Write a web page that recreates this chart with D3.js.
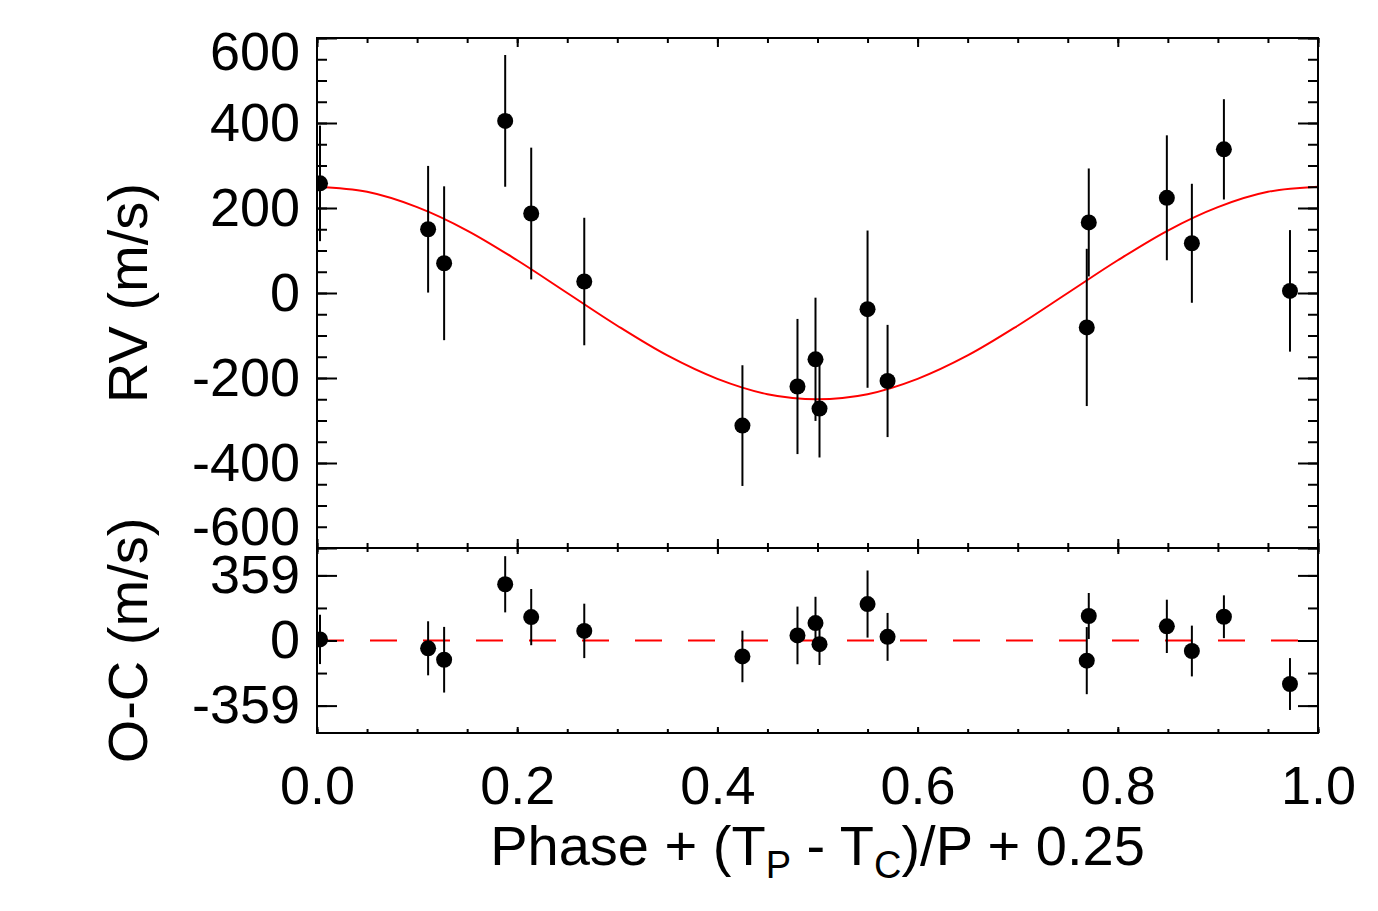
<!DOCTYPE html>
<html>
<head>
<meta charset="utf-8">
<script src="https://cdn.jsdelivr.net/npm/d3@7"></script>
<style>
  body { margin: 0; background: #fff; }
  text { font-family: "Liberation Sans", Arial, Helvetica, sans-serif; }
</style>
</head>
<body>
<svg id="chart" width="1378" height="911"></svg>
<script>
const phase = [0.003, 0.111, 0.127, 0.188, 0.214, 0.267, 0.425, 0.480, 0.498,
               0.502, 0.550, 0.570, 0.771, 0.769, 0.849, 0.874, 0.906, 0.972];
const rv    = [258, 150, 70, 405, 187, 27, -312, -220, -156,
               -272, -38, -207, 166, -81, 224, 117, 338, 5];
const rvErr = [136, 149, 181, 155, 155, 150, 142, 159, 145,
               115, 185, 132, 127, 185, 147, 140, 118, 143];
const oc    = [6, -43, -106, 310, 129, 53, -88, 28, 96,
               -20, 201, 20, 135, -111, 78, -58, 131, -240];

// fitted orbit, sampled from the red curve
const modelPhase = [0, 0.05, 0.1, 0.15, 0.2, 0.25, 0.3, 0.35, 0.4, 0.45, 0.5,
                    0.55, 0.6, 0.65, 0.7, 0.75, 0.8, 0.85, 0.9, 0.95, 1];
const modelRv    = [250, 238, 202, 147, 77, 0, -77, -147, -202, -238, -250,
                    -238, -202, -147, -77, 0, 77, 147, 202, 238, 250];

const xTicks = [0, 0.2, 0.4, 0.6, 0.8, 1.0];
const xMinor = d3.range(0, 1.0001, 0.05);
const rvTicks = [-600, -400, -200, 0, 200, 400, 600];
const rvMinor = d3.range(-600, 601, 50);
const ocTicks = [-359, 0, 359];
const ocMinor = [-359, -179.5, 0, 179.5, 359];

const svg = d3.select('#chart');
const pLeft = 317, pRight = 1318, pTop = 38, pMid = 548, pBottom = 733;
const FS = 54;      // tick labels
const TFS = 56;     // axis titles

const x = d3.scaleLinear().domain([0, 1]).range([pLeft, pRight]);
const yTop = d3.scaleLinear().domain([-600, 600]).range([pMid, pTop]);
const yBot = d3.scaleLinear().domain([-510, 510]).range([pBottom, pMid]);

const plain = d => String(d);   // hyphen minus, like the original

function styleAxis(g) {
  g.select('.domain').remove();
  g.selectAll('.tick line').attr('stroke', '#000').attr('stroke-width', 2);
  g.selectAll('.tick text')
    .attr('fill', '#000')
    .style('font-size', FS + 'px')
    .style('font-family', '"Liberation Sans", Arial, sans-serif');
}

function addAxis(axis, tx, ty) {
  const g = svg.append('g').attr('transform', `translate(${tx},${ty})`).call(axis);
  styleAxis(g);
  return g;
}

// clip paths for the two panels
const defs = svg.append('defs');
defs.append('clipPath').attr('id', 'clipTop')
  .append('rect').attr('x', pLeft).attr('y', pTop).attr('width', pRight - pLeft).attr('height', pMid - pTop);
defs.append('clipPath').attr('id', 'clipBot')
  .append('rect').attr('x', pLeft).attr('y', pMid).attr('width', pRight - pLeft).attr('height', pBottom - pMid);

// ---- top panel: RV ----
const gTop = svg.append('g').attr('clip-path', 'url(#clipTop)');

gTop.append('path')
  .datum(modelPhase.map((p, i) => [p, modelRv[i]]))
  .attr('fill', 'none')
  .attr('stroke', '#ff0000')
  .attr('stroke-width', 2)
  .attr('d', d3.line().x(d => x(d[0])).y(d => yTop(d[1])).curve(d3.curveCatmullRom.alpha(0.5)));

phase.forEach((p, i) => {
  gTop.append('line')
    .attr('x1', x(p)).attr('x2', x(p))
    .attr('y1', yTop(rv[i] - rvErr[i])).attr('y2', yTop(rv[i] + rvErr[i]))
    .attr('stroke', '#000').attr('stroke-width', 2);
});
phase.forEach((p, i) => {
  gTop.append('circle')
    .attr('cx', x(p)).attr('cy', yTop(rv[i])).attr('r', 8).attr('fill', '#000');
});

// ---- bottom panel: O-C ----
const gBot = svg.append('g').attr('clip-path', 'url(#clipBot)');

gBot.append('line')
  .attr('x1', x(0)).attr('x2', x(1))
  .attr('y1', yBot(0)).attr('y2', yBot(0))
  .attr('stroke', '#ff0000').attr('stroke-width', 2)
  .attr('stroke-dasharray', '27,26');

phase.forEach((p, i) => {
  gBot.append('line')
    .attr('x1', x(p)).attr('x2', x(p))
    .attr('y1', yBot(oc[i] - rvErr[i])).attr('y2', yBot(oc[i] + rvErr[i]))
    .attr('stroke', '#000').attr('stroke-width', 2);
});
phase.forEach((p, i) => {
  gBot.append('circle')
    .attr('cx', x(p)).attr('cy', yBot(oc[i])).attr('r', 8).attr('fill', '#000');
});

// ---- axes, top panel ----
const rvLabels = addAxis(d3.axisLeft(yTop).tickValues(rvTicks).tickSize(-20).tickPadding(17).tickFormat(plain), pLeft, 0);
rvLabels.selectAll('.tick text')
  .attr('y', d => d === 600 ? 14 : d === -600 ? -21 : 0);
addAxis(d3.axisLeft(yTop).tickValues(rvMinor).tickSize(-10).tickFormat(''), pLeft, 0);
addAxis(d3.axisRight(yTop).tickValues(rvTicks).tickSize(-20).tickFormat(''), pRight, 0);
addAxis(d3.axisRight(yTop).tickValues(rvMinor).tickSize(-10).tickFormat(''), pRight, 0);
addAxis(d3.axisTop(x).tickValues(xTicks).tickSize(-9).tickFormat(''), 0, pTop);
addAxis(d3.axisTop(x).tickValues(xMinor).tickSize(-5).tickFormat(''), 0, pTop);
addAxis(d3.axisBottom(x).tickValues(xTicks).tickSize(-9).tickFormat(''), 0, pMid);
addAxis(d3.axisBottom(x).tickValues(xMinor).tickSize(-5).tickFormat(''), 0, pMid);

// ---- axes, bottom panel ----
addAxis(d3.axisLeft(yBot).tickValues(ocTicks).tickSize(-20).tickPadding(17).tickFormat(plain), pLeft, 0);
addAxis(d3.axisLeft(yBot).tickValues(ocMinor).tickSize(-10).tickFormat(''), pLeft, 0);
addAxis(d3.axisRight(yBot).tickValues(ocTicks).tickSize(-20).tickFormat(''), pRight, 0);
addAxis(d3.axisRight(yBot).tickValues(ocMinor).tickSize(-10).tickFormat(''), pRight, 0);
addAxis(d3.axisTop(x).tickValues(xTicks).tickSize(-6).tickFormat(''), 0, pMid);
addAxis(d3.axisTop(x).tickValues(xMinor).tickSize(-4).tickFormat(''), 0, pMid);
addAxis(d3.axisBottom(x).tickValues(xTicks).tickSize(-6).tickPadding(33).tickFormat(d3.format('.1f')), 0, pBottom);
addAxis(d3.axisBottom(x).tickValues(xMinor).tickSize(-4).tickFormat(''), 0, pBottom);

// frames
svg.append('rect')
  .attr('x', pLeft).attr('y', pTop).attr('width', pRight - pLeft).attr('height', pBottom - pTop)
  .attr('fill', 'none').attr('stroke', '#000').attr('stroke-width', 2);
svg.append('line')
  .attr('x1', pLeft).attr('x2', pRight).attr('y1', pMid).attr('y2', pMid)
  .attr('stroke', '#000').attr('stroke-width', 2);

// axis titles
svg.append('text')
  .attr('transform', `translate(147,${(pTop + pMid) / 2}) rotate(-90)`)
  .attr('text-anchor', 'middle')
  .style('font-size', TFS + 'px')
  .text('RV (m/s)');

svg.append('text')
  .attr('transform', `translate(147,${(pMid + pBottom) / 2}) rotate(-90)`)
  .attr('text-anchor', 'middle')
  .style('font-size', TFS + 'px')
  .text('O-C (m/s)');

const xt = svg.append('text')
  .attr('x', x(0.5)).attr('y', 865)
  .attr('text-anchor', 'middle')
  .style('font-size', TFS + 'px');
xt.append('tspan').text('Phase + (T');
xt.append('tspan').attr('dy', 13).style('font-size', '38px').text('P');
xt.append('tspan').attr('dy', -13).text(' - T');
xt.append('tspan').attr('dy', 13).style('font-size', '38px').text('C');
xt.append('tspan').attr('dy', -13).text(')/P + 0.25');
</script>
</body>
</html>
